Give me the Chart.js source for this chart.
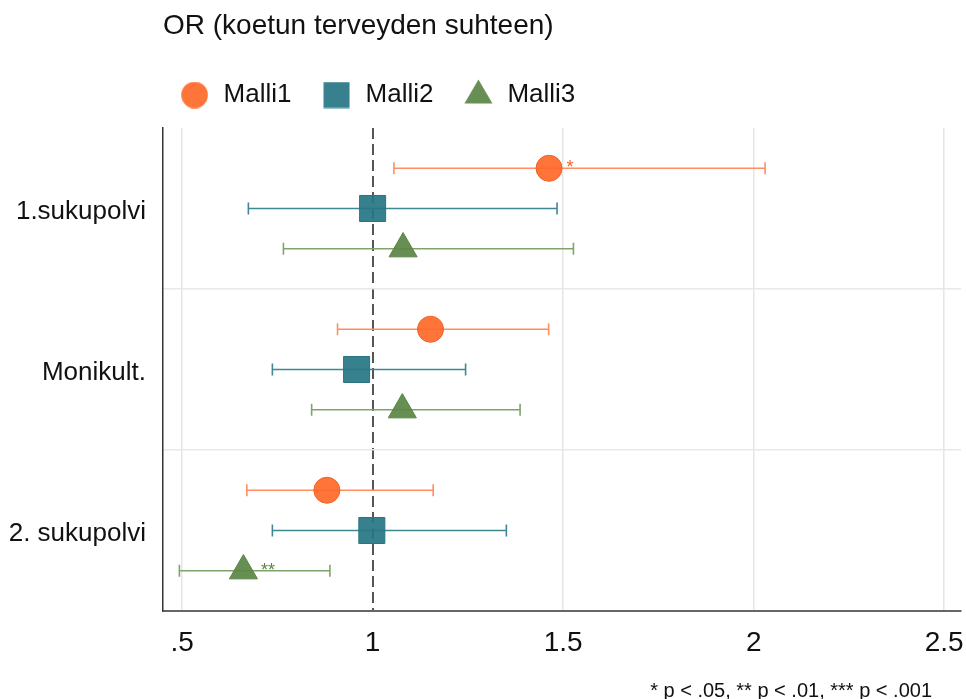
<!DOCTYPE html>
<html><head><meta charset="utf-8">
<script src="https://cdn.jsdelivr.net/npm/chart.js@4"></script>
<style>
html,body{margin:0;padding:0;background:#fff;}
#wrap{position:relative;width:966px;height:699px;}
#note{position:absolute;right:34px;top:680px;font:20px/20px 'Liberation Sans',Arial,sans-serif;color:#111;white-space:nowrap;}
</style></head><body>
<div id="wrap"><canvas id="c" width="966" height="699"></canvas><div id="note">* p &lt; .05, ** p &lt; .01, *** p &lt; .001</div></div>
<script>
// ---- data ----
const categories = ['1.sukupolvi', 'Monikult.', '2. sukupolvi'];
const seriesNames = ['Malli1', 'Malli2', 'Malli3'];
const malli1 = [1.463, 1.152, 0.880];
const malli1Low = [1.056, 0.908, 0.670];
const malli1High = [2.030, 1.462, 1.159];
const malli2 = [1.000, 0.958, 0.998];
const malli2Low = [0.674, 0.737, 0.737];
const malli2High = [1.484, 1.244, 1.351];
const malli3 = [1.080, 1.078, 0.661];
const malli3Low = [0.766, 0.840, 0.493];
const malli3High = [1.527, 1.387, 0.888];
const malli1Stars = ['*', '', ''];
const malli2Stars = ['', '', ''];
const malli3Stars = ['', '', '**'];
const xTicks = [0.5, 1, 1.5, 2, 2.5];
const xTickLabels = ['.5', '1', '1.5', '2', '2.5'];

// ---- styling ----
const FONT = "'Liberation Sans', Arial, sans-serif";
const markerColors = ['rgba(255,104,40,0.92)', 'rgba(38,118,132,0.92)', 'rgba(90,134,68,0.92)'];
const markerEdge = ['#F0622A', '#2A7482', '#5A8446'];
const barColors = ['#FF8E60', '#3F8793', '#7EA46C'];
const pointStyles = ['circle', 'rect', 'triangle'];
const pointRadii = [13, 18.4, 16.2];

const est = [malli1, malli2, malli3];
const lows = [malli1Low, malli2Low, malli3Low];
const highs = [malli1High, malli2High, malli3High];
const stars = [malli1Stars, malli2Stars, malli3Stars];

// rows: each category gets a band of 4 slots, series occupy slots 1..3
const SLOTS = 4;
const rowOf = (g, s) => g * SLOTS + s + 1;
const yMax = categories.length * SLOTS;
const yTickValues = [];
categories.forEach((c, g) => { if (g > 0) yTickValues.push(g * SLOTS); yTickValues.push(g * SLOTS + 2); });

// legend icons
function makeIcon(kind, color) {
  const cv = document.createElement('canvas');
  const c = cv.getContext('2d');
  if (kind === 'circle') {
    cv.width = 27; cv.height = 27;
    c.fillStyle = color; c.beginPath(); c.arc(13.5, 13.5, 13.3, 0, Math.PI * 2); c.fill();
  } else if (kind === 'rect') {
    cv.width = 27; cv.height = 27;
    c.fillStyle = color; c.fillRect(0.5, 0.5, 26, 26);
  } else {
    cv.width = 29; cv.height = 32;
    c.fillStyle = color; c.beginPath(); c.moveTo(14.5, 0.5); c.lineTo(28.5, 24.5); c.lineTo(0.5, 24.5); c.closePath(); c.fill();
  }
  return cv;
}
const legendIcons = pointStyles.map((p, i) => makeIcon(p, markerColors[i]));

const datasets = [];
seriesNames.forEach((name, s) => {
  datasets.push({
    label: name,
    data: categories.map((c, g) => ({ x: est[s][g], y: rowOf(g, s) })),
    pointStyle: pointStyles[s],
    pointRadius: pointRadii[s],
    pointHoverRadius: pointRadii[s],
    backgroundColor: markerColors[s],
    borderColor: markerEdge[s],
    pointBorderWidth: 1,
    showLine: false,
    order: 0
  });
});
seriesNames.forEach((name, s) => {
  const d = [];
  categories.forEach((c, g) => {
    d.push({ x: lows[s][g], y: rowOf(g, s) });
    d.push({ x: highs[s][g], y: rowOf(g, s) });
    d.push({ x: null, y: null });
  });
  datasets.push({
    label: name + ' CI',
    data: d,
    showLine: true,
    spanGaps: false,
    borderColor: barColors[s],
    borderWidth: 1.6,
    pointStyle: 'line',
    pointRotation: 90,
    pointRadius: 6,
    pointHoverRadius: 6,
    pointBorderColor: barColors[s],
    pointBorderWidth: 1.6,
    tension: 0,
    order: 1
  });
});

const starPlugin = {
  id: 'stars',
  afterDatasetsDraw(chart) {
    const ctx = chart.ctx;
    ctx.save();
    ctx.font = '18px ' + FONT;
    ctx.textAlign = 'left';
    ctx.textBaseline = 'middle';
    seriesNames.forEach((n, s) => {
      const meta = chart.getDatasetMeta(s);
      meta.data.forEach((pt, g) => {
        const t = stars[s][g];
        if (!t) return;
        ctx.fillStyle = markerEdge[s];
        ctx.fillText(t, pt.x + 17.5, pt.y);
      });
    });
    ctx.restore();
  }
};

const legendShift = {
  id: 'legendShift',
  beforeDraw(chart) {
    if (chart.legend) {
      const w = chart.legend.right - chart.legend.left;
      chart.legend.left = chart.chartArea.left - 13.4;
      chart.legend.right = chart.legend.left + w;
    }
  }
};

new Chart(document.getElementById('c'), {
  type: 'scatter',
  data: { datasets },
  plugins: [starPlugin, legendShift],
  options: {
    responsive: false,
    animation: false,
    events: [],
    devicePixelRatio: 1,
    layout: { autoPadding: false, padding: { left: 0, right: 5, top: 0, bottom: 0 } },
    plugins: {
      title: {
        display: true, text: 'OR (koetun terveyden suhteen)', align: 'start', fullSize: false,
        color: '#111', font: { family: FONT, size: 28, weight: 'normal', lineHeight: 1.2 },
        padding: { top: 9.5, bottom: 9.9 }
      },
      subtitle: { display: true, text: '', weight: 500, fullSize: false, font: { size: 10, lineHeight: 1 }, padding: 0 },
      legend: {
        display: true, position: 'top', align: 'start', fullSize: false,
        labels: {
          usePointStyle: true, pointStyleWidth: 32, padding: 29, color: '#111',
          font: { family: FONT, size: 26 },
          generateLabels: () => seriesNames.map((n, i) => ({
            text: n, pointStyle: legendIcons[i], fillStyle: markerColors[i], strokeStyle: markerColors[i],
            lineWidth: 0, hidden: false, datasetIndex: i, fontColor: '#111'
          }))
        }
      },
      tooltip: { enabled: false }
    },
    scales: {
      x: {
        type: 'linear', min: 0.45, max: 2.544,
        afterBuildTicks: sc => { sc.ticks = xTicks.map(v => ({ value: v })); },
        afterFit: sc => { sc.height = 88; sc.paddingLeft = 0; sc.paddingRight = 0; },
        ticks: {
          callback: (v) => xTickLabels[xTicks.indexOf(v)],
          font: { family: FONT, size: 28 }, color: '#111', padding: 0, maxRotation: 0, autoSkip: false
        },
        grid: {
          drawTicks: true, tickLength: 15, tickColor: 'rgba(0,0,0,0)',
          color: c => (c.tick && c.tick.value === 1) ? '#555' : '#e6e6e6',
          lineWidth: c => (c.tick && c.tick.value === 1) ? 2 : 1.5
        },
        border: { color: '#666', width: 2, dash: c => (c.tick && c.tick.value === 1) ? [11, 5] : [] }
      },
      y: {
        type: 'linear', min: 0, max: yMax, reverse: true,
        afterBuildTicks: sc => { sc.ticks = yTickValues.map(v => ({ value: v })); },
        afterFit: sc => { sc.width = 163; sc.paddingTop = 0; sc.paddingBottom = 0; },
        ticks: {
          callback: (v) => (v % SLOTS === 2) ? categories[(v - 2) / SLOTS] : '',
          font: { family: FONT, size: 26 }, color: '#111', padding: 17, labelOffset: 3.5, autoSkip: false
        },
        grid: {
          drawTicks: false,
          color: c => (c.tick && c.tick.value % SLOTS === 0) ? '#e8e8e8' : 'rgba(0,0,0,0)',
          lineWidth: 1.5
        },
        border: { color: '#333', width: 1.5 }
      }
    }
  }
});
</script>
</body></html>
